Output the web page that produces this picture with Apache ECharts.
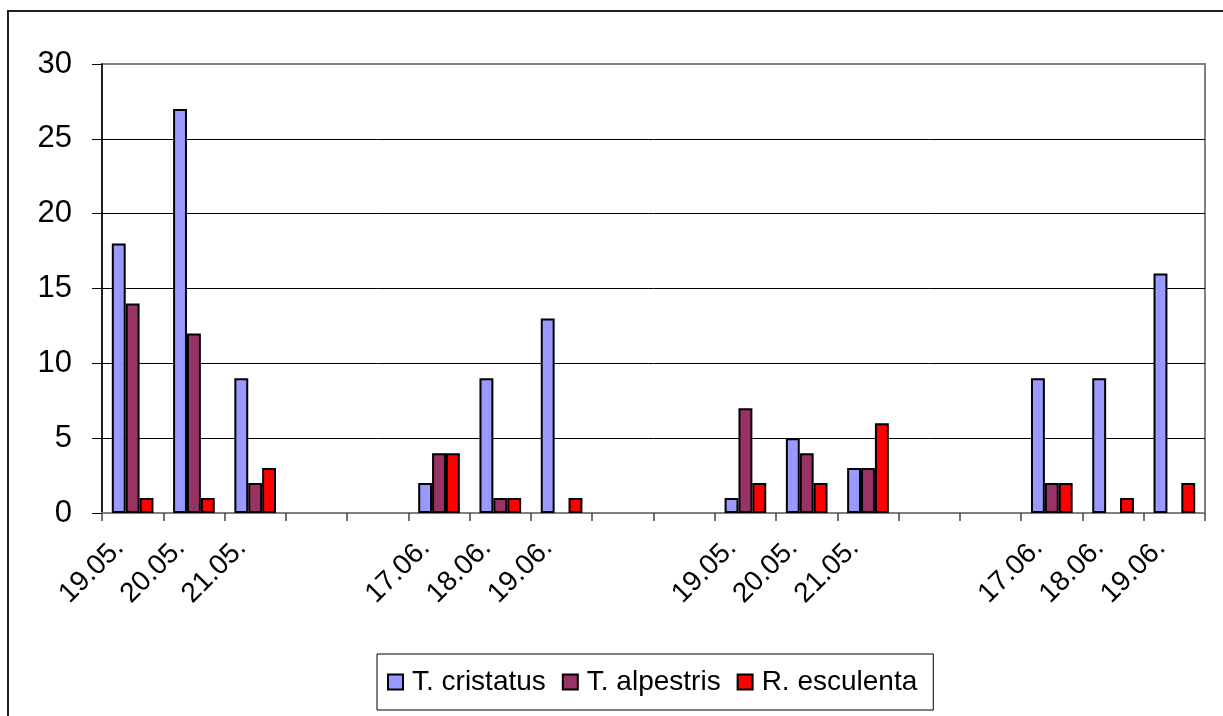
<!DOCTYPE html>
<html>
<head>
<meta charset="utf-8">
<title>Amphibien-Zählungen</title>
<script src="https://cdn.jsdelivr.net/npm/echarts@6/dist/echarts.min.js"></script>
<style>
  html, body { margin: 0; padding: 0; background: #fff; }
  #chart { width: 1223px; height: 716px; }
</style>
</head>
<body>
<div id="chart"></div>
<script>
// Survey dates; empty strings keep the gaps between survey blocks
const categories = ['19.05.', '20.05.', '21.05.', '', '', '17.06.', '18.06.', '19.06.', '', '',
                    '19.05.', '20.05.', '21.05.', '', '', '17.06.', '18.06.', '19.06.'];

// Counts per species (null = no record)
const cristatus = [18, 27, 9, null, null, 2, 9, 13, null, null, 1, 5, 3, null, null, 9, 9, 16];
const alpestris = [14, 12, 2, null, null, 4, 1, null, null, null, 7, 4, 3, null, null, 2, null, null];
const esculenta = [1, 1, 3, null, null, 4, 1, 1, null, null, 2, 2, 6, null, null, 2, 1, 2];

const seriesNames = ['T. cristatus', 'T. alpestris', 'R. esculenta'];
const yMin = 0, yMax = 30, yStep = 5;

const seriesColors = ['#9999FF', '#993366', '#FF0000'];
const FONT = '"Liberation Sans", Arial, sans-serif';

const chart = echarts.init(document.getElementById('chart'), null, { renderer: 'canvas' });

chart.setOption({
  animation: false,
  backgroundColor: '#fff',
  graphic: [{
    // outer chart frame
    type: 'rect',
    silent: true,
    shape: { x: 8, y: 11, width: 1400, height: 900 },
    style: { fill: 'none', stroke: '#222', lineWidth: 2 }
  }],
  grid: {
    left: 102, right: 18, top: 64, bottom: 203,
    show: true, borderColor: '#808080', borderWidth: 2,
    outerBoundsMode: 'none'
  },
  legend: {
    left: 377, top: 654,
    orient: 'horizontal',
    padding: [14, 16, 14, 10],
    itemGap: 16,
    itemWidth: 15, itemHeight: 15,
    icon: 'rect',
    borderColor: '#000', borderWidth: 1,
    selectedMode: false,
    textStyle: { fontSize: 28, color: '#000', fontFamily: FONT, padding: [0, 0, 0, 4] }
  },
  xAxis: {
    type: 'category',
    data: categories,
    axisLine: { lineStyle: { color: '#808080', width: 2 } },
    axisTick: { show: true, interval: 0, length: 8, lineStyle: { color: '#444', width: 1.5 } },
    axisLabel: {
      interval: 0, rotate: 45, margin: 17,
      fontSize: 28, color: '#000', fontFamily: FONT,
      padding: [0, 19, 0, 0]
    },
    splitLine: { show: false }
  },
  yAxis: {
    type: 'value',
    min: yMin, max: yMax, interval: yStep,
    axisLine: { show: true, lineStyle: { color: '#000', width: 1.5 } },
    axisTick: { show: true, length: 10, lineStyle: { color: '#000', width: 1 } },
    axisLabel: { margin: 30, fontSize: 31, color: '#000', fontFamily: FONT },
    splitLine: {
      lineStyle: { color: ['#808080', '#000', '#000', '#000', '#000', '#000', '#808080'], width: 1 }
    }
  },
  series: [cristatus, alpestris, esculenta].map((vals, i) => ({
    name: seriesNames[i],
    type: 'bar',
    data: vals,
    barGap: '0%',
    barCategoryGap: '32%',
    itemStyle: { color: seriesColors[i], borderColor: '#000', borderWidth: 2 }
  }))
});
</script>
</body>
</html>
